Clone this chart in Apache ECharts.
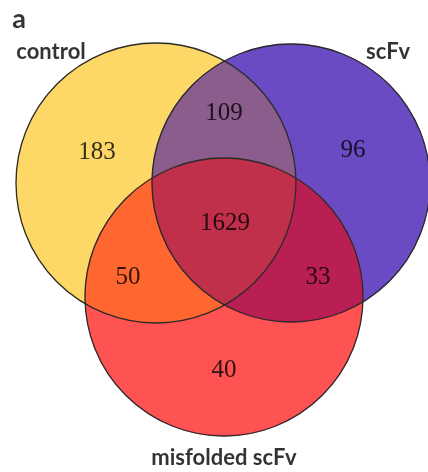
<!DOCTYPE html>
<html>
<head>
<meta charset="utf-8">
<script src="https://cdn.jsdelivr.net/npm/echarts@6/dist/echarts.min.js"></script>
<style>html,body{margin:0;padding:0;background:#fff}#chart{width:428px;height:472px}</style>
</head>
<body>
<div id="chart"></div>
<script>
// ---- data ----
const panelLabel = 'a';
const setNames = ['control', 'scFv', 'misfolded scFv'];
const regionNames = ['control only', 'scFv only', 'misfolded scFv only',
  'control ∩ scFv', 'control ∩ misfolded scFv', 'scFv ∩ misfolded scFv', 'all three'];
const regionCounts = [183, 96, 40, 109, 50, 33, 1629];
const regionSets = [[0], [1], [2], [0, 1], [0, 2], [1, 2], [0, 1, 2]];

// ---- layout (page pixel space) ----
const layout = {
  circles: [{x: 156, y: 183, r: 140}, {x: 291, y: 183, r: 139}, {x: 224, y: 297, r: 139}],
  regionLabel: [[97, 152], [353, 150], [224, 370], [224, 113], [128, 277], [318, 277], [225, 223]],
  setLabel: [[51, 52], [388, 52], [224, 458]],
  panel: [19, 19]
};
const regionColors = ['#FDD866', '#6A4BC3', '#FF5252', '#8A5D8C', '#FF6630', '#B91F52', '#C1304A'];

function circlePoly(c, n) {
  const p = [];
  for (let i = 0; i < n; i++) {
    const a = 2 * Math.PI * i / n;
    p.push([c.x + c.r * Math.cos(a), c.y + c.r * Math.sin(a)]);
  }
  return p;
}
function clipPoly(subject, clip) {
  // Sutherland-Hodgman, clip convex; orientation via signed area
  let area = 0;
  for (let i = 0; i < clip.length; i++) {
    const a = clip[i], b = clip[(i + 1) % clip.length];
    area += a[0] * b[1] - b[0] * a[1];
  }
  const s = area > 0 ? 1 : -1;
  const inside = (p, a, b) => s * ((b[0] - a[0]) * (p[1] - a[1]) - (b[1] - a[1]) * (p[0] - a[0])) >= 0;
  const inter = (p, q, a, b) => {
    const x1 = p[0], y1 = p[1], x2 = q[0], y2 = q[1], x3 = a[0], y3 = a[1], x4 = b[0], y4 = b[1];
    const d = (x1 - x2) * (y3 - y4) - (y1 - y2) * (x3 - x4);
    const t = ((x1 - x3) * (y3 - y4) - (y1 - y3) * (x3 - x4)) / d;
    return [x1 + t * (x2 - x1), y1 + t * (y2 - y1)];
  };
  let out = subject;
  for (let i = 0; i < clip.length; i++) {
    const a = clip[i], b = clip[(i + 1) % clip.length];
    const input = out; out = [];
    for (let j = 0; j < input.length; j++) {
      const p = input[j], q = input[(j + 1) % input.length];
      const pin = inside(p, a, b), qin = inside(q, a, b);
      if (pin) { out.push(p); if (!qin) out.push(inter(p, q, a, b)); }
      else if (qin) { out.push(inter(p, q, a, b)); }
    }
    if (!out.length) break;
  }
  return out;
}
// region fill polygons: single circles first, then intersections painted on top
const regionPolys = regionSets.map(sets => {
  let poly = circlePoly(layout.circles[sets[0]], 360);
  for (let k = 1; k < sets.length; k++) poly = clipPoly(poly, circlePoly(layout.circles[sets[k]], 360));
  return poly;
});

const chart = echarts.init(document.getElementById('chart'), null, {renderer: 'canvas'});
const serif = '"Liberation Serif", "Times New Roman", serif';
const sans = 'Lato, "Open Sans", sans-serif';

chart.setOption({
  animation: false,
  grid: {left: 0, right: 0, top: 0, bottom: 0},
  xAxis: {type: 'value', min: 0, max: 428, show: false},
  yAxis: {type: 'value', min: 0, max: 472, inverse: true, show: false},
  series: [
    {
      type: 'custom', silent: true,
      data: regionNames.map((n, i) => ({name: n, value: [i]})),
      renderItem: (params, api) => {
        const i = params.dataIndex;
        return {
          type: 'polygon',
          shape: {points: regionPolys[i].map(p => api.coord(p))},
          style: {fill: regionColors[i], stroke: regionColors[i], lineWidth: 0.5}
        };
      }
    },
    {
      type: 'custom', silent: true,
      data: setNames.map((n, i) => ({name: n, value: [i]})),
      renderItem: (params, api) => {
        const c = layout.circles[params.dataIndex];
        const p = api.coord([c.x, c.y]);
        const r = api.size([c.r, 0])[0];
        return {type: 'circle', shape: {cx: p[0], cy: p[1], r: r},
          style: {fill: 'none', stroke: '#2a2a2a', lineWidth: 1.3}};
      }
    },
    {
      type: 'scatter', symbolSize: 0, silent: true,
      data: regionCounts.map((v, i) => ({name: regionNames[i], value: layout.regionLabel[i].concat(v)})),
      label: {show: true, position: 'inside', formatter: p => String(p.value[2]),
        fontFamily: serif, fontSize: 25, color: '#000'}
    },
    {
      type: 'scatter', symbolSize: 0, silent: true,
      data: setNames.map((n, i) => ({name: n, value: layout.setLabel[i]})),
      label: {show: true, position: 'inside', formatter: p => p.name,
        fontFamily: sans, fontWeight: 'bold', fontSize: 22, color: '#000'}
    },
    {
      type: 'scatter', symbolSize: 0, silent: true,
      data: [{name: panelLabel, value: layout.panel}],
      label: {show: true, position: 'inside', formatter: p => p.name,
        fontFamily: sans, fontWeight: 'bold', fontSize: 27, color: '#000'}
    }
  ]
});
</script>
</body>
</html>
